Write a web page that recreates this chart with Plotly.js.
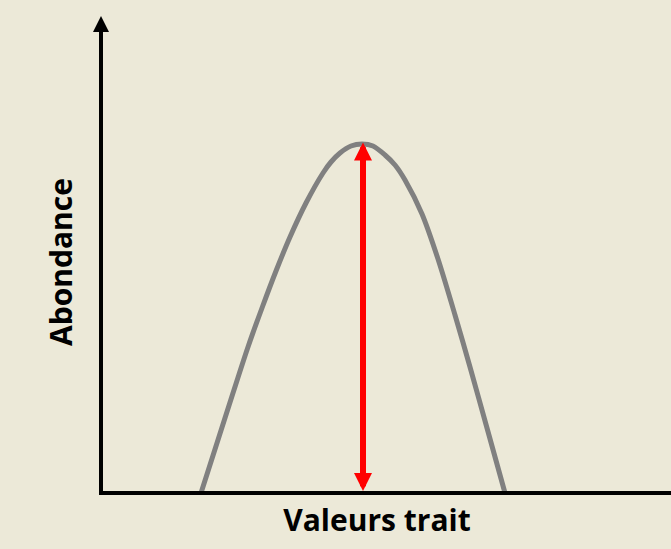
<!DOCTYPE html>
<html>
<head>
<meta charset="utf-8">
<script src="https://cdn.plot.ly/plotly-3.0.1.min.js"></script>
<style>html,body{margin:0;padding:0;background:#ECE9D8;}#chart{width:671px;height:549px;}</style>
</head>
<body>
<div id="chart"></div>
<script>
// Trait values (x) and abundance (y)
const traitValues = [201, 217, 233, 248, 262, 276, 290, 306, 323, 331, 340, 351, 362, 373, 385, 395, 405, 422, 438, 455, 470, 487, 505];
const abundance   = [0, 50, 100, 146, 185, 222, 256, 290, 320, 331, 340, 347, 349, 347, 338, 328, 313, 279, 234, 178, 126, 65, 0];
const peakTrait = 363;
const peakAbundance = 352;
const xTitle = "Valeurs trait";
const yTitle = "Abondance";

const bg = "#ECE9D8";
const titleFont = {family: "'Open Sans', Lato, sans-serif", size: 30, color: "#000", weight: 700};

const traces = [{
  type: "scatter",
  mode: "lines",
  x: traitValues,
  y: abundance,
  line: {color: "#808080", width: 5, shape: "spline", smoothing: 0.8},
  hoverinfo: "skip",
  showlegend: false
}];

const layout = {
  width: 671, height: 549,
  paper_bgcolor: bg, plot_bgcolor: bg,
  margin: {l: 83, r: 0, t: 15, b: 40},
  showlegend: false,
  xaxis: {
    range: [83, 671], showgrid: false, zeroline: false, showline: false,
    showticklabels: false, ticks: "",
    title: {text: xTitle, font: titleFont, standoff: 0}
  },
  yaxis: {
    range: [-16, 478], showgrid: false, zeroline: false, showline: false,
    showticklabels: false, ticks: "",
    title: {text: yTitle, font: titleFont, standoff: 0}
  },
  shapes: [{
    type: "line", xref: "x", yref: "y", x0: 99, x1: 671, y0: 0, y1: 0,
    line: {color: "#000", width: 4}
  }],
  annotations: [
    { // y axis arrow
      xref: "x", yref: "y", axref: "x", ayref: "y",
      x: 101, y: 477, ax: 101, ay: -2, text: "",
      showarrow: true, arrowhead: 2, arrowsize: 0.8, arrowwidth: 4, arrowcolor: "#000"
    },
    { // red double arrow from baseline to peak
      xref: "x", yref: "y", axref: "x", ayref: "y",
      x: peakTrait, y: 2, ax: peakTrait, ay: peakAbundance, text: "",
      showarrow: true, arrowside: "end+start", arrowhead: 2, startarrowhead: 2,
      arrowsize: 0.6, startarrowsize: 0.6, arrowwidth: 6, arrowcolor: "#FF0000"
    }
  ]
};

Plotly.newPlot("chart", traces, layout, {staticPlot: true, displayModeBar: false});
</script>
</body>
</html>
